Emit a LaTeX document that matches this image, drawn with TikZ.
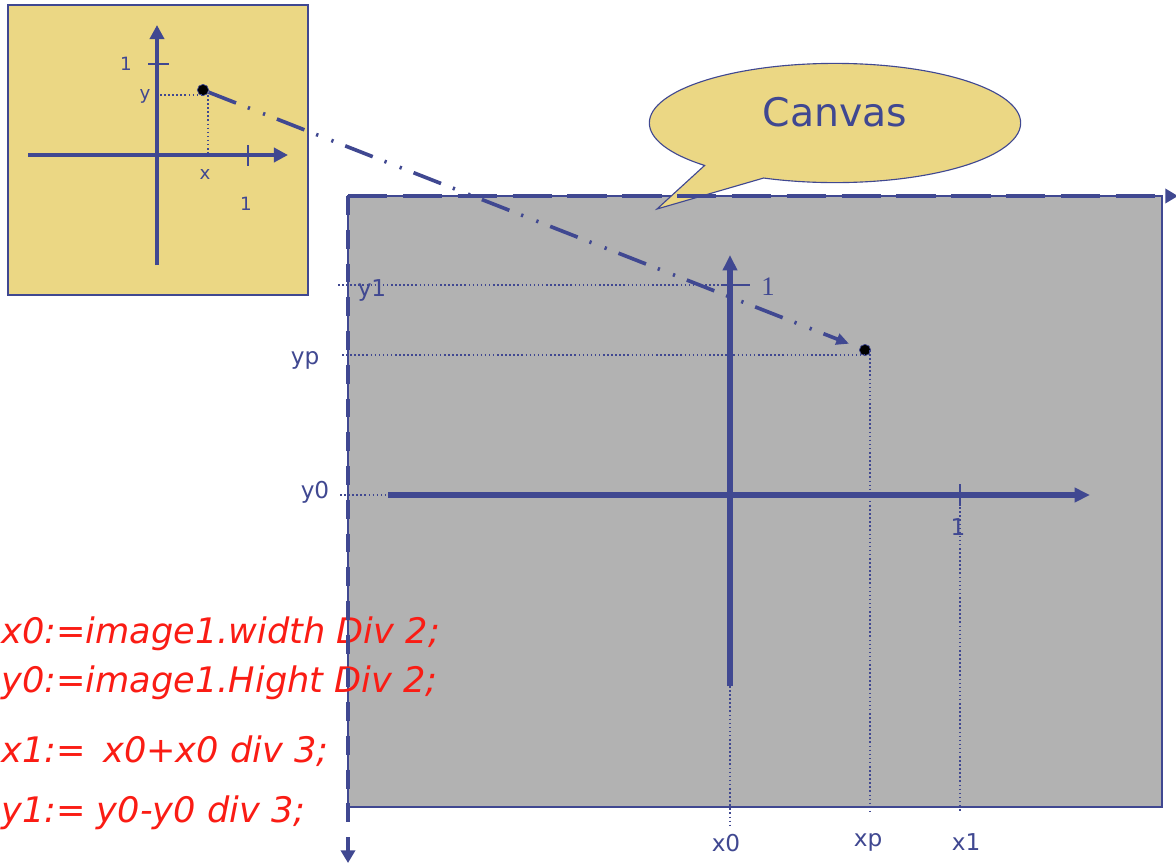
\documentclass[tikz,border=0pt]{standalone}
\usepackage{fontspec}
\setmainfont{DejaVu Sans}
\newfontfamily\seriffont{Liberation Serif}
\usetikzlibrary{arrows.meta, shapes.geometric, shapes.callouts}
\definecolor{cvblue}{RGB}{64, 72, 145}
\definecolor{cvyellow}{RGB}{235, 215, 132}
\definecolor{cvgray}{RGB}{178, 178, 178}
\definecolor{cvred}{RGB}{250, 28, 20}

\begin{document}
\begin{tikzpicture}[x=0.025cm, y=-0.025cm,
  axis/.style={cvblue, line width=3.6pt, -{Triangle[length=11pt, width=10pt]}},
  smallaxis/.style={cvblue, line width=3.3pt, -{Triangle[length=10pt, width=10pt]}},
  border/.style={cvblue, line width=3.2pt, -{Triangle[length=9pt, width=10pt]}},
  guide/.style={cvblue, line width=1.1pt, dash pattern=on 1.1pt off 1.8pt},
  tickmark/.style={cvblue, line width=0.8pt},
  lbl/.style={text=cvblue, font=\fontsize{16.5}{18}\selectfont, inner sep=0pt},
  smalllbl/.style={text=cvblue, font=\fontsize{13}{15}\selectfont, inner sep=0pt},
  code/.style={text=cvred, font=\fontsize{25}{28}\selectfont\itshape, anchor=base west, inner sep=0pt},
  spot/.style={circle, fill=black, draw=cvblue, line width=0.5pt, inner sep=0pt, minimum size=8pt}]

\useasboundingbox (0,0) rectangle (1176,863);

% ============================================================
% CANVAS (fondo gris)
% ============================================================
\fill[cvgray] (348,196) rectangle (1162,807);
\draw[cvblue, line width=0.8pt] (348,196) rectangle (1162,807);

% ============================================================
% CODIGO (rojo)
% ============================================================
\node[code] (code1) at (1,643) {x0:=image1.width Div 2;};
\node[code] (code2) at (1,692) {y0:=image1.Hight Div 2;};
\node[code] (code3) at (1,762) {x1:=\hspace{0.5em}x0+x0 div 3;};
\node[code] (code4) at (1,822) {y1:= y0-y0 div 3;};

% ============================================================
% RECUADRO (esquina superior)
% ============================================================
\draw[cvblue, line width=0.8pt, fill=cvyellow] (8,5) rectangle (308,295);
\coordinate (il) at (28,155);
\coordinate (ir) at (288,155);
\coordinate (ib) at (157,265);
\coordinate (it) at (157,25);
\draw[smallaxis] (il) -- (ir);
\draw[smallaxis] (ib) -- (it);
% Marcas
\draw[tickmark] (248,145) -- (248,166);
\draw[tickmark] (148,64) -- (169,64);
\node[spot] (ip) at (203,90) {};
\coordinate (iy) at (160,95);
\coordinate (ix) at (208,155);
\draw[guide] (iy) -- (iy -| ip);
\draw[guide] (ix |- iy) -- (ix);
\node[smalllbl] (i1y) at (126,64) {1};
\node[smalllbl] (ilbly) at (145,96) {y};
\node[smalllbl] (ilblx) at (205,174) {x};
\node[smalllbl] (i1x) at (246,204) {1};

% ============================================================
% BOCADILLO
% ============================================================
\node[ellipse callout, draw=cvblue, fill=cvyellow, line width=0.8pt,
      minimum width=9.28cm, minimum height=2.98cm, callout pointer arc=22,
      callout absolute pointer={(657,209)}] (bubble) at (835,123) {};
\node[text=cvblue, font=\fontsize{28}{32}\selectfont, inner sep=0pt] (canvaslbl) at (835,112) {Canvas};

% ============================================================
% BORDES DEL CANVAS (ejes de pantalla)
% ============================================================
\coordinate (corner) at (348,196);
\coordinate (right) at (1178,196);
\coordinate (down) at (348,863);
\draw[border, dash pattern=on 28pt off 11pt] (corner) -- (right);
\draw[border, dash pattern=on 13.5pt off 10.5pt] (corner) -- (down);

% ============================================================
% EJES PRINCIPALES
% ============================================================
\coordinate (o) at (730,495);
\coordinate (xl) at (388,495);
\coordinate (xr) at (1090,495);
\coordinate (yb) at (730,686);
\coordinate (yt) at (730,255);
\draw[axis] (xl) -- (xr);
\draw[axis] (yb) -- (yt);
\draw[tickmark] (960,484) -- (960,506);
\draw[tickmark] (722,285) -- (750,285);
\node[spot] (pp) at (865,350) {};

% Guias punteadas
\coordinate (y1l) at (338,285);
\coordinate (ypl) at (342,355);
\coordinate (y0l) at (340,495);
\coordinate (x0b) at (730,826);
\coordinate (xpb) at (870,812);
\coordinate (x1b) at (960,812);
\draw[guide] (y1l) -- (722,285);
\draw[guide] (ypl) -- (ypl -| pp);
\draw[guide] (y0l) -- (xl);
\draw[guide] (yb) -- (x0b);
\draw[guide] (xpb |- pp) -- (xpb);
\draw[guide] (x1b |- o) -- (x1b);

% Flecha punto-raya
\draw[cvblue, line width=2.6pt, dash pattern=on 21pt off 9pt on 1.6pt off 10pt on 1.6pt off 9pt,
      -{Triangle[length=9pt, width=8pt]}, shorten >=8pt] (ip) -- (pp);

% ============================================================
% ETIQUETAS
% ============================================================
\node[lbl] (lbly1) at (372,290) {y1};
\node[lbl] (lblyp) at (305,360) {yp};
\node[lbl] (lbly0) at (315,492) {y0};
\node[lbl] (lblx0) at (726,843) {x0};
\node[lbl] (lblxp) at (868,842) {xp};
\node[lbl] (lblx1) at (966,842) {x1};
\node[lbl] (lbl1x) at (958,527) {1};
\node[lbl, font=\fontsize{19}{21}\selectfont\seriffont] (lbl1y) at (768,287) {1};

\end{tikzpicture}
\end{document}
